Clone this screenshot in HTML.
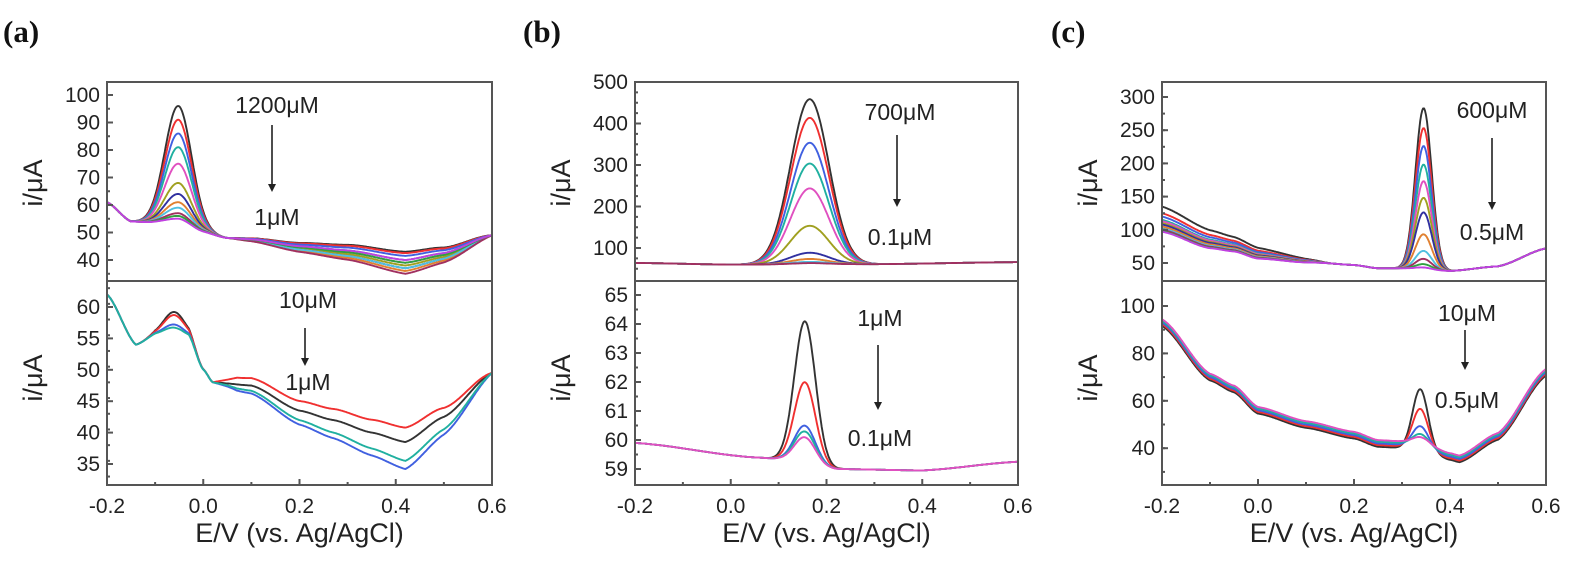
<!DOCTYPE html>
<html><head><meta charset="utf-8"><style>
html,body{margin:0;padding:0;background:#fff;}
svg text{font-family:"Liberation Sans",Arial,sans-serif;fill:#222;}
</style></head><body>
<svg id="s" width="1575" height="559" xmlns="http://www.w3.org/2000/svg">
<text x="3" y="42" style="font-family:'Liberation Serif',serif;font-weight:bold;font-size:31px;fill:#111">(a)</text>
<text x="523" y="42" style="font-family:'Liberation Serif',serif;font-weight:bold;font-size:31px;fill:#111">(b)</text>
<text x="1051" y="42" style="font-family:'Liberation Serif',serif;font-weight:bold;font-size:31px;fill:#111">(c)</text>
</svg>
<script>
const S=document.getElementById('s');const NS='http://www.w3.org/2000/svg';
function el(t,a,txt){const e=document.createElementNS(NS,t);for(const k in a)e.setAttribute(k,a[k]);if(txt!==undefined)e.textContent=txt;S.appendChild(e);return e;}
const COL=['#333','#f03030','#4060e0','#20b0a0','#e050c0','#a0a020','#3030a0','#e08030','#50c0e0','#a03060','#30a040','#c040e0'];
function interp(pts,x){for(let i=0;i<pts.length-1;i++){if(x<=pts[i+1][0]){const[a,b]=pts[i],[c,d]=pts[i+1];const t=(x-a)/(c-a);const s=t*t*(3-2*t);return b+(d-b)*(0.5*t+0.5*s);}}return pts[pts.length-1][1];}
function panel(L,R,T,B,ymap,curves,yticks,minor){
 const X=v=>L+(v+0.2)/0.8*(R-L);
 curves.forEach((f,ci)=>{let d='';for(let i=0;i<=400;i++){const v=-0.2+0.8*i/400;let y=ymap(f(v));y=Math.max(T+1,Math.min(B-1,y));d+=(i?'L':'M')+X(v).toFixed(1)+','+y.toFixed(1);}el('path',{d:d,fill:'none',stroke:COL[ci%COL.length],'stroke-width':1.9,'stroke-linejoin':'round'});});
 el('rect',{x:L,y:T,width:R-L,height:B-T,fill:'none',stroke:'#555','stroke-width':2});
 yticks.forEach(([v,lab])=>{const y=ymap(v);el('line',{x1:L,y1:y,x2:L+6,y2:y,stroke:'#555','stroke-width':2});el('text',{x:L-7,y:y+7,'text-anchor':'end','font-size':21},lab);});
 minor.forEach(v=>{const y=ymap(v);if(y>T+2&&y<B-2)el('line',{x1:L,y1:y,x2:L+3,y2:y,stroke:'#555','stroke-width':2});});
}
function xaxis(L,R,B){const X=v=>L+(v+0.2)/0.8*(R-L);
 [-0.2,0,0.2,0.4,0.6].forEach(v=>{el('line',{x1:X(v),y1:B,x2:X(v),y2:B-6,stroke:'#555','stroke-width':2});el('text',{x:X(v),y:B+28,'text-anchor':'middle','font-size':21},v.toFixed(1));});
 [-0.1,0.1,0.3,0.5].forEach(v=>el('line',{x1:X(v),y1:B,x2:X(v),y2:B-3,stroke:'#555','stroke-width':2}));
 el('text',{x:(L+R)/2,y:B+57,'text-anchor':'middle','font-size':27},'E/V (vs. Ag/AgCl)');}
function ylab(x,y){el('text',{x:x,y:y,'text-anchor':'middle','font-size':27,transform:`rotate(-90 ${x} ${y})`},'i/μA');}
function ann(x,y1,t1,ya,yb,y2,t2,ax){el('text',{x:x,y:y1,'text-anchor':'middle','font-size':23},t1);el('line',{x1:ax,y1:ya,x2:ax,y2:yb-6,stroke:'#222','stroke-width':1.6});el('path',{d:`M${ax-4},${yb-8}L${ax+4},${yb-8}L${ax},${yb}Z`,fill:'#222'});el('text',{x:x,y:y2,'text-anchor':'middle','font-size':23},t2);}
const g=(v,c,s)=>Math.exp(-((v-c)*(v-c))/(2*s*s));
function rng(a,b,st){const r=[];for(let v=a;v<=b+1e-9;v+=st)r.push(+v.toFixed(4));return r;}
{const L=107,R=492,T=82,B=281;const ym=v=>95+(100-v)*2.75;
 const base=[[-0.2,61],[-0.15,54],[-0.1,53.5],[-0.05,53],[0,50],[0.05,48],[0.1,47.5],[0.2,45],[0.3,43.5],[0.42,40],[0.5,42.5],[0.6,49]];
 const H=[43,38,33,28,22,15,11,8,6,4,3,2];const off=[3,2.5,1.5,0,-1,-2,-3,-4,-3,-5,-1,0];
 const cs=H.map((h,i)=>v=>interp(base,v)+off[i]*Math.max(0,(v-0.05))/0.37*(v<0.42?1:(0.6-v)/0.18)+h*g(v,-0.052,0.028));
 panel(L,R,T,B,ym,cs,[[100,'100'],[90,'90'],[80,'80'],[70,'70'],[60,'60'],[50,'50'],[40,'40']],rng(35,100,5));}
{const L=107,R=492,T=281,B=485;const ym=v=>307+(60-v)*6.28;
 const mk=(m,p,o)=>v=>{const base=[[-0.2,62],[-0.14,54],[-0.1,55.5],[-0.03,55],[0,50],[0.02,48],[0.1,47.5],[0.2,43.5],[0.27,42],[0.35,40],[0.42,38.5],[0.5,42.5],[0.6,49.5]];let y=interp(base,v);const w=v>0.02?Math.min(1,(v-0.02)/0.05)*(v<0.42?1:Math.max(0,(0.6-v)/0.18)):0;y+=w*(o+(m-38.5)*Math.max(0,(v-0.05)/0.37));return y+p*g(v,-0.06,0.022);};
 const cs=[mk(38.5,4,0),mk(39.8,3.5,1),mk(35,2,-0.8),mk(36,1.5,-0.5)];
 panel(L,R,T,B,ym,cs,[[60,'60'],[55,'55'],[50,'50'],[45,'45'],[40,'40'],[35,'35']],rng(33,63,2.5));}
xaxis(107,492,485);ylab(42,183);ylab(42,378);
ann(277,113,'1200μM',125,192,225,'1μM',272);ann(308,308,'10μM',328,366,390,'1μM',305);
{const L=635,R=1018,T=82,B=281;const ym=v=>82+(500-v)*0.415;
 const base=[[-0.2,64],[0,60],[0.3,61],[0.6,66]];const H=[398,353,293,243,183,93,28,13,6,3];
 const cs=H.map(h=>v=>interp(base,v)+h*g(v,0.165,0.04));
 panel(L,R,T,B,ym,cs,[[500,'500'],[400,'400'],[300,'300'],[200,'200'],[100,'100']],rng(50,500,25));}
{const L=635,R=1018,T=281,B=485;const ym=v=>295+(65-v)*29;
 const base=[[-0.2,59.9],[0.05,59.4],[0.1,59.35],[0.22,59.0],[0.4,58.95],[0.6,59.25]];const H=[4.9,2.8,1.3,1.1,0.9];
 const cs=H.map(h=>v=>interp(base,v)+h*g(v,0.155,0.022));
 panel(L,R,T,B,ym,cs,[[65,'65'],[64,'64'],[63,'63'],[62,'62'],[61,'61'],[60,'60'],[59,'59']],rng(58.5,65.5,0.5));}
xaxis(635,1018,485);ylab(570,183);ylab(570,378);
ann(900,120,'700μM',135,207,245,'0.1μM',897);ann(880,326,'1μM',345,410,446,'0.1μM',878);
{const L=1162,R=1546,T=82,B=281;const ym=v=>97+(300-v)*0.664;
 const base=[[-0.2,105],[-0.1,78],[-0.05,72],[0,60],[0.1,52],[0.2,47],[0.25,42],[0.3,42],[0.4,38],[0.5,45],[0.6,72]];
 const H=[243,213,186,158,133,108,86,53,28,16,8,3];const off=[30,20,15,10,8,5,3,0,-3,-5,-7,-8];
 const cs=H.map((h,i)=>v=>interp(base,v)+off[i]*Math.max(0,(0.15-v)/0.35)+h*g(v,0.345,0.017));
 panel(L,R,T,B,ym,cs,[[300,'300'],[250,'250'],[200,'200'],[150,'150'],[100,'100'],[50,'50']],rng(25,325,25));}
{const L=1162,R=1546,T=281,B=485;const ym=v=>306+(100-v)*2.37;
 const base=[[-0.2,93],[-0.1,70],[-0.05,65],[0,56],[0.1,50],[0.2,45.5],[0.25,42],[0.3,41.5],[0.35,40],[0.4,36.5],[0.42,35.5],[0.5,45],[0.6,72]];
 const H=[26,17,9,5,3];const cs=H.map((h,i)=>v=>interp(base,v)+(i-2)*0.7+h*g(v,0.338,0.016));
 panel(L,R,T,B,ym,cs,[[100,'100'],[80,'80'],[60,'60'],[40,'40']],rng(30,110,10));}
xaxis(1162,1546,485);ylab(1097,183);ylab(1097,378);
ann(1492,118,'600μM',138,210,240,'0.5μM',1492);ann(1467,321,'10μM',330,370,408,'0.5μM',1465);
</script>
</body></html>
